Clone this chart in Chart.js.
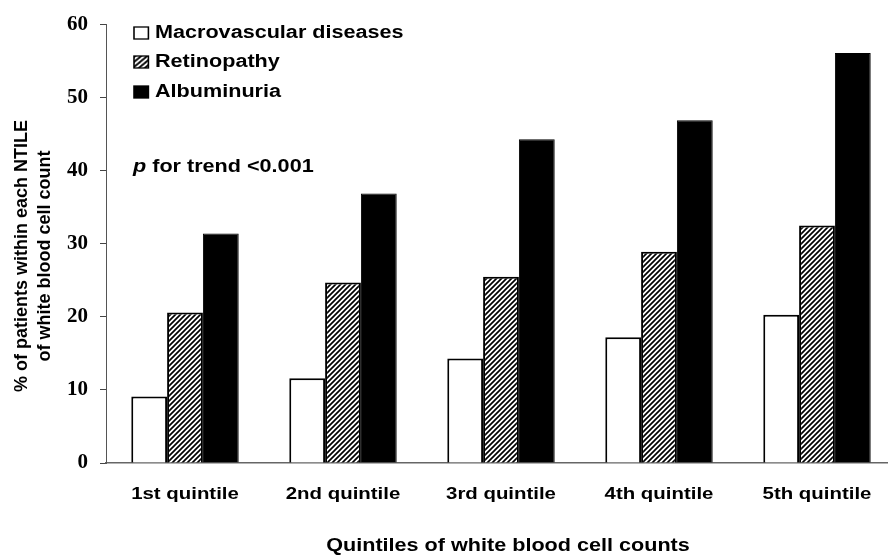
<!DOCTYPE html>
<html lang="en">
<head>
    <meta charset="UTF-8">
    <title>Quintiles of white blood cell counts</title>
    <script src="https://cdn.jsdelivr.net/npm/chart.js"></script>
    <style>
        html, body { margin: 0; padding: 0; background: #fff; overflow: hidden; }
        .chart-container { width: 896px; height: 557px; }
    </style>
</head>
<body>
    <div class="chart-container">
        <canvas id="wbcChart"></canvas>
    </div>

    <script>
        // datos
        const quintiles = ['1st quintile', '2nd quintile', '3rd quintile', '4th quintile', '5th quintile'];
        const macrovascular = [9.1, 11.6, 14.3, 17.2, 20.3];
        const retinopathy = [20.6, 24.7, 25.5, 28.9, 32.5];
        const albuminuria = [31.4, 36.9, 44.3, 46.9, 56.1];
        const seriesNames = ['Macrovascular diseases', 'Retinopathy', 'Albuminuria'];
        const yMin = 0, yMax = 60, yStep = 10;

        const SANS = "'Liberation Sans', Arial, sans-serif";
        const SERIF = "'Liberation Serif', 'Times New Roman', serif";
        const STRETCH = 1.2; // the original text is a bit wide

        // rayado diagonal para Retinopathy
        function makeHatch() {
            const s = 5;
            const c = document.createElement('canvas');
            c.width = s; c.height = s;
            const g = c.getContext('2d');
            g.fillStyle = '#fff';
            g.fillRect(0, 0, s, s);
            g.strokeStyle = '#000';
            g.lineWidth = 1.7;
            g.beginPath();
            g.moveTo(-1, s + 1); g.lineTo(s + 1, -1);
            g.moveTo(-1, 1); g.lineTo(1, -1);
            g.moveTo(s - 1, s + 1); g.lineTo(s + 1, s - 1);
            g.stroke();
            return g.createPattern(c, 'repeat');
        }
        const hatch = makeHatch();

        function wideText(ctx, text, x, y, align) {
            ctx.save();
            ctx.translate(x, y);
            ctx.scale(STRETCH, 1);
            ctx.textAlign = align;
            ctx.fillText(text, 0, 0);
            ctx.restore();
        }

        const extras = {
            id: 'extras',
            afterDraw(chart) {
                const ctx = chart.ctx;
                const xs = chart.scales.x;
                ctx.save();
                ctx.fillStyle = '#000';
                ctx.textBaseline = 'middle';

                // etiquetas del eje X
                ctx.font = 'bold 17px ' + SANS;
                chart.data.labels.forEach((lab, i) => {
                    wideText(ctx, lab, xs.getPixelForValue(i), 494, 'center');
                });

                // titulo eje X
                ctx.font = 'bold 18px ' + SANS;
                wideText(ctx, 'Quintiles of white blood cell counts', 508, 546, 'center');

                // titulo eje Y (dos lineas)
                ctx.save();
                ctx.translate(0, 256);
                ctx.rotate(-Math.PI / 2);
                ctx.font = 'bold 18px ' + SANS;
                ctx.textAlign = 'center';
                ctx.fillText('% of patients within each NTILE', 0, 22);
                ctx.fillText('of white blood cell count', 0, 45);
                ctx.restore();

                // leyenda
                const rows = [33, 62, 92];
                chart.data.datasets.forEach((ds, i) => {
                    const cy = rows[i];
                    ctx.save();
                    ctx.translate(134, cy);
                    ctx.scale(STRETCH, 1);
                    ctx.fillStyle = ds.backgroundColor;
                    ctx.fillRect(0, -6, 12, 12);
                    ctx.strokeStyle = '#000';
                    ctx.lineWidth = 1.3;
                    ctx.strokeRect(0, -6, 12, 12);
                    ctx.restore();
                    ctx.fillStyle = '#000';
                    ctx.font = 'bold 18px ' + SANS;
                    wideText(ctx, ds.label, 155, cy, 'left');
                });

                // anotacion
                ctx.font = 'italic bold 18px ' + SANS;
                wideText(ctx, 'p', 133, 167, 'left');
                const pw = ctx.measureText('p').width * STRETCH;
                ctx.font = 'bold 18px ' + SANS;
                wideText(ctx, ' for trend <0.001', 133 + pw, 167, 'left');

                ctx.restore();
            }
        };

        const ctx = document.getElementById('wbcChart').getContext('2d');
        new Chart(ctx, {
            type: 'bar',
            data: {
                labels: quintiles,
                datasets: [
                    {
                        label: seriesNames[0],
                        data: macrovascular,
                        backgroundColor: '#ffffff',
                        borderColor: '#000',
                        borderWidth: 2
                    },
                    {
                        label: seriesNames[1],
                        data: retinopathy,
                        backgroundColor: hatch,
                        borderColor: '#000',
                        borderWidth: 2
                    },
                    {
                        label: seriesNames[2],
                        data: albuminuria,
                        backgroundColor: '#000000',
                        borderColor: '#000',
                        borderWidth: 1
                    }
                ]
            },
            options: {
                responsive: true,
                maintainAspectRatio: false,
                animation: false,
                layout: { padding: { top: 22, left: 0, right: 0, bottom: 0 } },
                datasets: {
                    bar: { categoryPercentage: 0.68, barPercentage: 1.0 }
                },
                plugins: {
                    legend: { display: false },
                    tooltip: { enabled: false }
                },
                scales: {
                    x: {
                        grid: { display: true, drawOnChartArea: false, drawTicks: false },
                        border: { display: true, color: '#666', width: 1.5 },
                        ticks: { display: false },
                        afterFit(scale) { scale.height = 94; }
                    },
                    y: {
                        min: yMin,
                        max: yMax,
                        grid: { drawOnChartArea: false, drawTicks: true, tickLength: 6, color: '#444' },
                        border: { display: true, color: '#555', width: 1 },
                        ticks: {
                            stepSize: yStep,
                            padding: 12,
                            color: '#000',
                            font: { family: SERIF, size: 21, weight: 'bold' }
                        },
                        afterFit(scale) { scale.width = 106; }
                    }
                }
            },
            plugins: [extras]
        });
    </script>
</body>
</html>
